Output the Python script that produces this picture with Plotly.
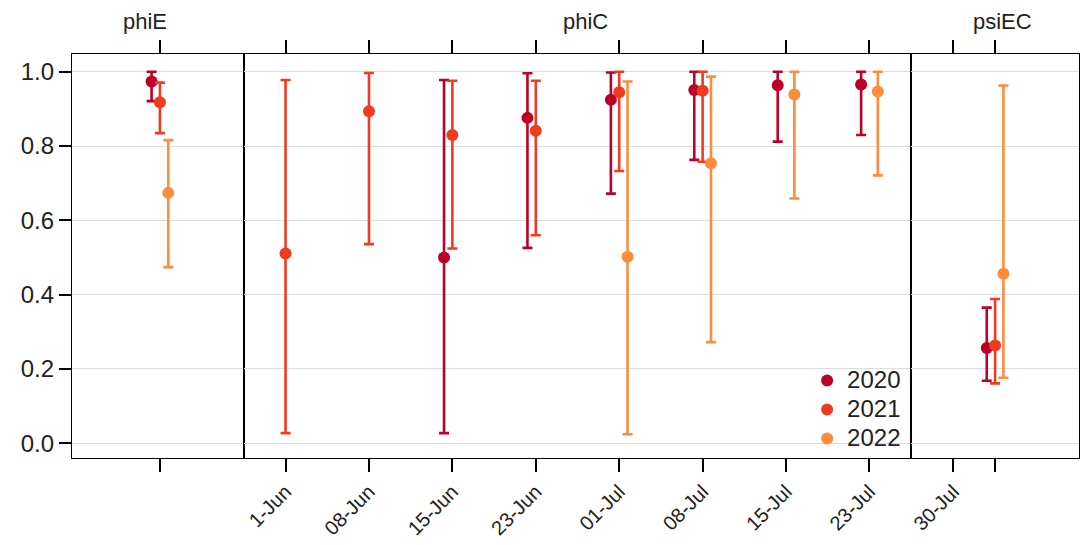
import plotly.graph_objects as go

# ---------------- data ----------------
years = ["2020", "2021", "2022"]
colors = ["#BD0026", "#F03B20", "#FD8D3C"]
offsets = [-0.1, 0.0, 0.1]

panel_names = ["phiE", "phiC", "psiEC"]

# phiE (single occasion)
phiE_est = [0.974, 0.918, 0.674]
phiE_lo = [0.921, 0.835, 0.474]
phiE_hi = [1.000, 0.971, 0.816]

# phiC (weekly occasions)
phiC_dates = ["1-Jun", "08-Jun", "15-Jun", "23-Jun", "01-Jul", "08-Jul", "15-Jul", "23-Jul"]
phiC_2020_est = [None, None, 0.500, 0.876, 0.925, 0.951, 0.964, 0.966]
phiC_2020_lo = [None, None, 0.027, 0.526, 0.672, 0.763, 0.812, 0.830]
phiC_2020_hi = [None, None, 0.978, 0.996, 0.998, 1.000, 1.000, 1.000]
phiC_2021_est = [0.511, 0.894, 0.830, 0.841, 0.945, 0.949, None, None]
phiC_2021_lo = [0.027, 0.536, 0.524, 0.560, 0.733, 0.758, None, None]
phiC_2021_hi = [0.978, 0.997, 0.976, 0.976, 1.000, 1.000, None, None]
phiC_2022_est = [None, None, None, None, 0.502, 0.754, 0.939, 0.947]
phiC_2022_lo = [None, None, None, None, 0.024, 0.272, 0.659, 0.721]
phiC_2022_hi = [None, None, None, None, 0.974, 0.987, 1.000, 1.000]

# psiEC (single occasion)
psiEC_ticks = ["30-Jul", ""]
psiEC_est = [0.256, 0.263, 0.456]
psiEC_lo = [0.168, 0.161, 0.176]
psiEC_hi = [0.365, 0.388, 0.963]

y_ticks = [0.0, 0.2, 0.4, 0.6, 0.8, 1.0]

# ---------------- figure ----------------
fig = go.Figure()

def add_points(xs, est, lo, hi, color, name, xa, ya, showlegend):
    X, Y, P, M = [], [], [], []
    for x, e, l, h in zip(xs, est, lo, hi):
        if e is None:
            continue
        X.append(x); Y.append(e); P.append(h - e); M.append(e - l)
    fig.add_trace(go.Scatter(
        x=X, y=Y, mode="markers",
        name=f"<span style='font-size:24px'>{name}</span>", legendgroup=name,
        showlegend=showlegend, xaxis=xa, yaxis=ya,
        marker=dict(color=color, size=12),
        error_y=dict(type="data", symmetric=False, array=P, arrayminus=M,
                     color=color, thickness=2.6, width=5),
        hovertemplate=f"{name}: %{{y:.3f}}<extra></extra>",
    ))

# phiE
for i, yr in enumerate(years):
    add_points([1 + offsets[i]], [phiE_est[i]], [phiE_lo[i]], [phiE_hi[i]],
               colors[i], yr, "x", "y", False)

# phiC
phiC_est = [phiC_2020_est, phiC_2021_est, phiC_2022_est]
phiC_lo = [phiC_2020_lo, phiC_2021_lo, phiC_2022_lo]
phiC_hi = [phiC_2020_hi, phiC_2021_hi, phiC_2022_hi]
for i, yr in enumerate(years):
    xs = [k + 1 + offsets[i] for k in range(len(phiC_dates))]
    add_points(xs, phiC_est[i], phiC_lo[i], phiC_hi[i], colors[i], yr, "x2", "y2", True)

# psiEC
for i, yr in enumerate(years):
    add_points([1 + offsets[i]], [psiEC_est[i]], [psiEC_lo[i]], [psiEC_hi[i]],
               colors[i], yr, "x3", "y3", False)

font_family = "Liberation Sans, Arial, Helvetica, sans-serif"

common_x = dict(showline=True, linecolor="black", linewidth=1.3, mirror="ticks",
                ticks="outside", ticklen=13, tickwidth=1.5, tickcolor="black",
                showgrid=False, zeroline=False, tickangle=-45,
                tickfont=dict(size=20, color="#222", family=font_family))

fig.update_layout(
    width=1086, height=545,
    margin=dict(l=72, r=6, t=54, b=82),
    paper_bgcolor="white", plot_bgcolor="white",
    font=dict(family=font_family, color="#222"),
    xaxis=dict(domain=[0, 172 / 1008], range=[-0.054, 2.006], anchor="y",
               tickmode="array", tickvals=[1], ticktext=[""], **common_x),
    xaxis2=dict(domain=[172 / 1008, 840 / 1008], range=[0.5, 8.5], anchor="y2",
                tickmode="array", tickvals=list(range(1, len(phiC_dates) + 1)),
                ticktext=phiC_dates, **common_x),
    xaxis3=dict(domain=[840 / 1008, 1], range=[-0.006, 2.006], anchor="y3",
                tickmode="array", tickvals=[0.5, 1], ticktext=psiEC_ticks, **common_x),
    yaxis=dict(range=[-0.04, 1.048], anchor="x", tickmode="array", tickvals=y_ticks,
               ticktext=[f"{v:.1f}" for v in y_ticks],
               showline=True, linecolor="black", linewidth=1.3, mirror=True,
               ticks="outside", ticklen=12, tickwidth=1.5, tickcolor="black",
               showgrid=True, gridcolor="#dddddd", gridwidth=1, zeroline=False,
               tickfont=dict(size=24, color="#222", family=font_family)),
    yaxis2=dict(range=[-0.04, 1.048], anchor="x2", matches="y", tickvals=y_ticks,
                showticklabels=False, ticks="", showline=True, linecolor="black",
                linewidth=1.3, mirror=True, showgrid=True, gridcolor="#dddddd",
                zeroline=False),
    yaxis3=dict(range=[-0.04, 1.048], anchor="x3", matches="y", tickvals=y_ticks,
                showticklabels=False, ticks="", showline=True, linecolor="black",
                linewidth=1.3, mirror=True, showgrid=True, gridcolor="#dddddd",
                zeroline=False),
    legend=dict(x=0.73, y=0.0, xanchor="left", yanchor="bottom",
                bgcolor="rgba(0,0,0,0)", font=dict(size=20, color="#222", family=font_family),
                itemsizing="constant", tracegroupgap=0),
    showlegend=True,
)

# panel titles (pixel centres, converted to paper coords)
title_px = [145, 586, 1003]
for name, px in zip(panel_names, title_px):
    fig.add_annotation(text=name, x=(px - 72) / 1008, y=(463 - 21) / 409,
                       xref="paper", yref="paper",
                       xanchor="center", yanchor="middle", showarrow=False,
                       font=dict(size=22, color="#222", family=font_family))

fig.write_html("out.html", config={"displayModeBar": False},
               post_script="document.body.style.margin='0';")
